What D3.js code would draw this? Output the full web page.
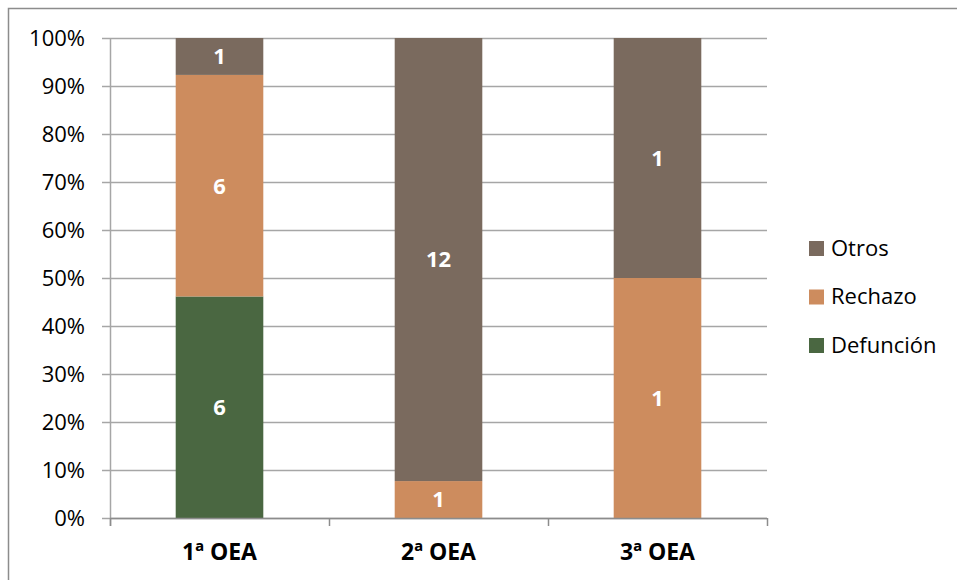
<!DOCTYPE html>
<html>
<head>
<meta charset="utf-8">
<script src="https://cdn.jsdelivr.net/npm/d3@7"></script>
<style>
  html, body { margin: 0; padding: 0; background: #fff; }
  svg { display: block; font-family: "Open Sans", Lato, sans-serif; }
</style>
</head>
<body>
<svg id="chart" width="957" height="580"></svg>
<script>
// Causes by OEA round, shown as a 100% stacked column chart
const categories = ["1ª OEA", "2ª OEA", "3ª OEA"];
const seriesNames = ["Defunción", "Rechazo", "Otros"];
const defuncion = [6, 0, 0];
const rechazo = [6, 1, 1];
const otros = [1, 12, 1];
const yTicks = [0, 0.1, 0.2, 0.3, 0.4, 0.5, 0.6, 0.7, 0.8, 0.9, 1];
const colors = ["#4a6741", "#cd8c5e", "#7a6a5e"];

const rows = categories.map((c, i) => ({
  cat: c, "Defunción": defuncion[i], "Rechazo": rechazo[i], "Otros": otros[i]
}));

const svg = d3.select("#chart");
const plot = { left: 110, right: 767, top: 38, bottom: 518 };
const fs = 22;

// frame around chart area
svg.append("path")
  .attr("d", "M8.5,580 V8.5 H957")
  .attr("fill", "none").attr("stroke", "#8c8c8c").attr("stroke-width", 1.5);

const x = d3.scaleBand().domain(categories).range([plot.left, plot.right])
  .paddingInner(0.6).paddingOuter(0.3);
const y = d3.scaleLinear().domain([0, 1]).range([plot.bottom, plot.top]);

const stack = d3.stack().keys(seriesNames).offset(d3.stackOffsetExpand);
const layers = stack(rows);

// gridlines
svg.append("g").selectAll("line").data(yTicks).join("line")
  .attr("x1", plot.left - 8).attr("x2", plot.right)
  .attr("y1", d => Math.round(y(d)) + 0.5).attr("y2", d => Math.round(y(d)) + 0.5)
  .attr("stroke", "#a6a6a6").attr("stroke-width", 1.5);

// y axis labels
svg.append("g").selectAll("text").data(yTicks).join("text")
  .attr("x", plot.left - 25).attr("y", d => y(d))
  .attr("dy", "0.36em").attr("text-anchor", "end")
  .attr("font-size", fs).attr("fill", "#000")
  .text(d3.format(".0%"));

// bars
const g = svg.append("g");
layers.forEach((layer, li) => {
  g.append("g").selectAll("rect").data(layer).join("rect")
    .attr("x", (d, i) => x(categories[i]))
    .attr("width", x.bandwidth())
    .attr("y", d => y(d[1]))
    .attr("height", d => y(d[0]) - y(d[1]))
    .attr("fill", colors[li]);
  g.append("g").selectAll("text").data(layer).join("text")
    .filter(d => d.data[seriesNames[li]] > 0)
    .attr("x", (d, i) => x(d.data.cat) + x.bandwidth() / 2)
    .attr("y", d => (y(d[0]) + y(d[1])) / 2)
    .attr("dy", "0.36em").attr("text-anchor", "middle")
    .attr("font-size", fs).attr("font-weight", "bold").attr("fill", "#fff")
    .text(d => d.data[seriesNames[li]]);
});

// axes lines
svg.append("line").attr("x1", plot.left + 0.5).attr("x2", plot.left + 0.5)
  .attr("y1", plot.top).attr("y2", plot.bottom + 8)
  .attr("stroke", "#a6a6a6").attr("stroke-width", 1.5);
const catEdges = [plot.left, ...categories.map(c => x(c) + x.bandwidth() + x.step() * x.paddingInner() / 2)];
catEdges[catEdges.length - 1] = plot.right;
svg.append("g").selectAll("line").data(catEdges).join("line")
  .attr("x1", d => Math.round(d) + 0.5).attr("x2", d => Math.round(d) + 0.5)
  .attr("y1", plot.bottom).attr("y2", plot.bottom + 8)
  .attr("stroke", "#8c8c8c").attr("stroke-width", 1.5);
svg.append("line").attr("x1", plot.left).attr("x2", plot.right)
  .attr("y1", plot.bottom + 0.5).attr("y2", plot.bottom + 0.5)
  .attr("stroke", "#8c8c8c").attr("stroke-width", 1.5);

// category labels
svg.append("g").selectAll("text").data(categories).join("text")
  .attr("x", d => x(d) + x.bandwidth() / 2).attr("y", 552)
  .attr("dy", "0.36em").attr("text-anchor", "middle")
  .attr("font-size", 23).attr("font-weight", "bold").attr("fill", "#000")
  .text(d => d);

// legend
const legendItems = seriesNames.map((n, i) => ({ n, c: colors[i] })).reverse();
const lg = svg.append("g").selectAll("g").data(legendItems).join("g")
  .attr("transform", (d, i) => `translate(809,${248 + i * 48.5})`);
lg.append("rect").attr("x", 0).attr("y", -7).attr("width", 15).attr("height", 15)
  .attr("fill", d => d.c);
lg.append("text").attr("x", 22).attr("y", 0).attr("dy", "0.36em")
  .attr("font-size", fs).attr("fill", "#000").text(d => d.n);
</script>
</body>
</html>
